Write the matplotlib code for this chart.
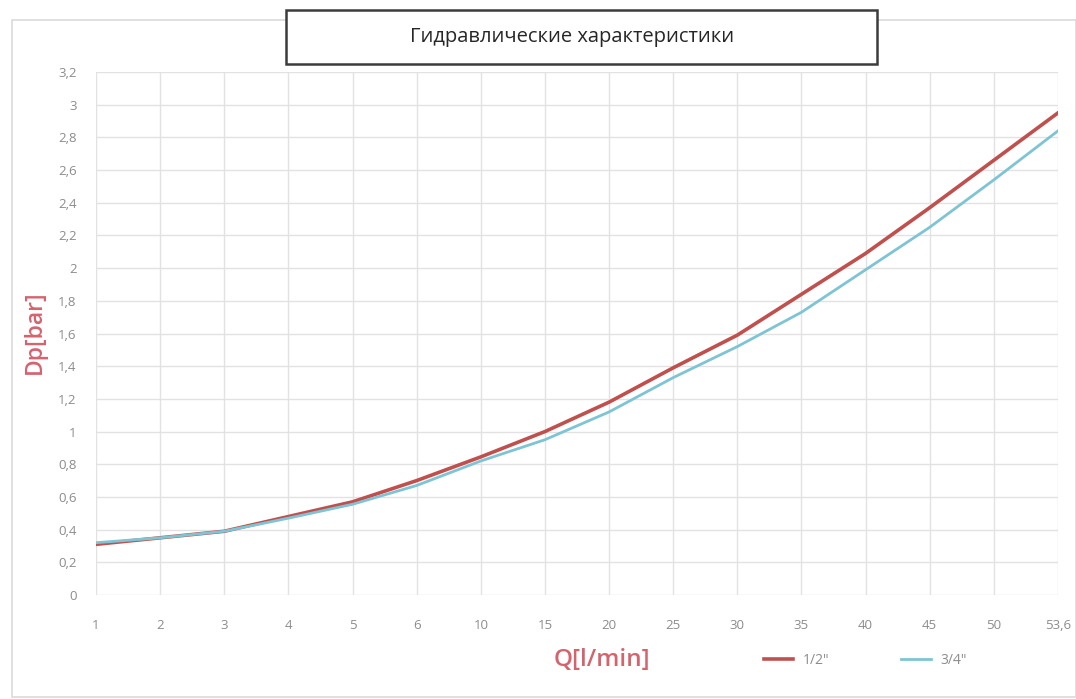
import matplotlib
matplotlib.use("Agg")
import matplotlib.pyplot as plt
from matplotlib.patches import Rectangle

# Data (Excel category axis, equally spaced)
q_labels = ["1", "2", "3", "4", "5", "6", "10", "15", "20", "25", "30", "35", "40", "45", "50", "53,6"]
dp_half = [0.31, 0.35, 0.39, 0.48, 0.57, 0.70, 0.845, 1.00, 1.18, 1.39, 1.59, 1.84, 2.09, 2.37, 2.66, 2.95]
dp_three_quarter = [0.32, 0.35, 0.39, 0.47, 0.555, 0.67, 0.82, 0.95, 1.12, 1.33, 1.52, 1.73, 1.99, 2.25, 2.54, 2.84]
y_ticks = [0, 0.2, 0.4, 0.6, 0.8, 1, 1.2, 1.4, 1.6, 1.8, 2, 2.2, 2.4, 2.6, 2.8, 3, 3.2]

plt.rcParams['font.family'] = ['Open Sans', 'DejaVu Sans']

W, H = 1076, 699
fig = plt.figure(figsize=(W / 100, H / 100), dpi=100)

# chart area border
fig.patches.append(Rectangle((12 / W, 2 / H), (W - 12) / W, (H - 22) / H, transform=fig.transFigure,
                             fill=False, edgecolor="#dadada", lw=1.2))

ax = fig.add_axes([96 / W, 1 - 595 / H, (1058 - 96) / W, (595 - 72) / H])
x = list(range(len(q_labels)))
ax.plot(x, dp_half, color="#c0504d", lw=2.6, label='1/2"', zorder=3)
ax.plot(x, dp_three_quarter, color="#7fc4d4", lw=2.0, label='3/4"', zorder=3)

ax.set_xlim(0, len(q_labels) - 1)
ax.set_ylim(0, 3.2)
ax.set_xticks(x)
ax.set_xticklabels(q_labels)
ax.set_yticks(y_ticks)
ax.set_yticklabels([("%g" % v).replace(".", ",") for v in y_ticks])
ax.tick_params(axis="both", length=0, labelsize=9.5, colors="#8c8c8c")
ax.tick_params(axis="x", pad=17)
ax.tick_params(axis="y", pad=14)
ax.grid(True, color="#e2e2e2", lw=1.0)
for s in ax.spines.values():
    s.set_visible(False)

# titles
fig.patches.append(Rectangle((286 / W, 1 - 64 / H), (877 - 286) / W, 54 / H, transform=fig.transFigure,
                             facecolor="white", edgecolor="#3c3c3c", lw=1.8, zorder=5))
fig.text(572 / W, 1 - 37 / H, "Гидравлические характеристики", ha="center", va="center",
         fontsize=14.5, color="#262626", zorder=6)

fig.text(35 / W, 1 - 332 / H, "Dp[bar]", rotation=90, ha="center", va="center",
         fontsize=16.5, fontweight="semibold", color="#d4636e")
fig.text(602 / W, 1 - 660 / H, "Q[l/min]", ha="center", va="center",
         fontsize=17.5, fontweight="semibold", color="#d4636e")

fig.legend(loc="center left", bbox_to_anchor=(751 / W, 1 - 660 / H), ncol=2, frameon=False,
           fontsize=10, labelcolor="#8c8c8c", handlelength=2.15, columnspacing=5.2, handletextpad=0.65)

fig.savefig("out.png", dpi=100)
